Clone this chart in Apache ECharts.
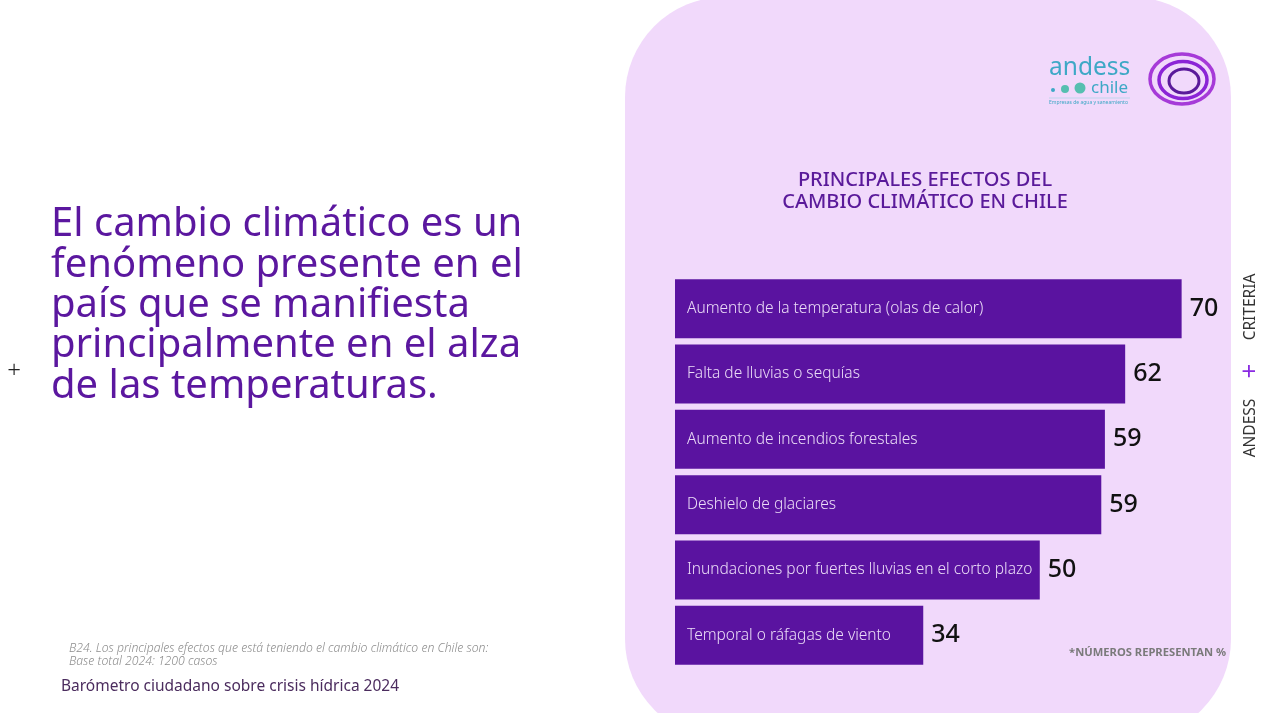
<!DOCTYPE html>
<html>
<head>
<meta charset="utf-8">
<script src="https://cdn.jsdelivr.net/npm/echarts@6/dist/echarts.min.js"></script>
<style>
html,body{margin:0;padding:0;background:#fff;}
#chart{width:1265px;height:713px;}
</style>
</head>
<body>
<div id="chart"></div>
<script>
const categories = [
  'Aumento de la temperatura (olas de calor)',
  'Falta de lluvias o sequías',
  'Aumento de incendios forestales',
  'Deshielo de glaciares',
  'Inundaciones por fuertes lluvias en el corto plazo',
  'Temporal o ráfagas de viento'
];
const values = [70, 62.2, 59.4, 58.9, 50.4, 34.3];
const headingLines = [
  'El cambio climático es un',
  'fenómeno presente en el',
  'país que se manifiesta',
  'principalmente en el alza',
  'de las temperaturas.'
];
const titleLines = ['PRINCIPALES EFECTOS DEL', 'CAMBIO CLIMÁTICO EN CHILE'];
const footnoteLines = [
  'B24. Los principales efectos que está teniendo el cambio climático en Chile son:',
  'Base total 2024: 1200 casos'
];
const sourceText = 'Barómetro ciudadano sobre crisis hídrica 2024';
const noteText = '*NÚMEROS REPRESENTAN %';

const FONT = 'Noto Sans';

const chart = echarts.init(document.getElementById('chart'));

const graphics = [];
// lavender panel
graphics.push({
  type: 'rect', z: -10, silent: true,
  shape: { x: 625, y: -3, width: 606, height: 742, r: 100 },
  style: { fill: '#f1d9fb' }
});
// heading
headingLines.forEach((t, i) => {
  graphics.push({
    type: 'text', x: 51, y: 225 + i * 40.3,
    style: { text: t, fill: '#5b179f', font: '400 40px "' + FONT + '"', textVerticalAlign: 'middle' }
  });
});
graphics.push({ type: 'text', x: 14, y: 371,
  style: { text: '+', fill: '#222', font: '300 24px "' + FONT + '"', textAlign: 'center', textVerticalAlign: 'middle' } });
// chart title
titleLines.forEach((t, i) => {
  graphics.push({
    type: 'text', x: 925, y: 180 + i * 22,
    style: { text: t, fill: '#5a1a9a', font: '500 20px "' + FONT + '"', textAlign: 'center', textVerticalAlign: 'middle' }
  });
});
// footnotes
footnoteLines.forEach((t, i) => {
  graphics.push({
    type: 'text', x: 69, y: 649 + i * 13,
    style: { text: t, fill: '#8c8c8c', font: 'italic 300 12.2px "' + FONT + '"', textVerticalAlign: 'middle' }
  });
});
graphics.push({ type: 'text', x: 61, y: 687,
  style: { text: sourceText, fill: '#4b2c5e', font: '400 15.5px "' + FONT + '"', textVerticalAlign: 'middle' } });
graphics.push({ type: 'text', x: 1226, y: 653,
  style: { text: noteText, fill: '#7a7a7a', font: 'bold 11.2px "' + FONT + '"', textAlign: 'right', textVerticalAlign: 'middle' } });
// vertical side text
graphics.push({ type: 'text', x: 1251, y: 307, rotation: Math.PI / 2,
  style: { text: 'CRITERIA', fill: '#333', font: '400 15.5px "' + FONT + '"', textAlign: 'center', textVerticalAlign: 'middle' } });
graphics.push({ type: 'text', x: 1251, y: 371, rotation: Math.PI / 2,
  style: { text: '+', fill: '#8a2be2', font: '400 26px "' + FONT + '"', textAlign: 'center', textVerticalAlign: 'middle' } });
graphics.push({ type: 'text', x: 1251, y: 428, rotation: Math.PI / 2,
  style: { text: 'ANDESS', fill: '#333', font: '400 15.5px "' + FONT + '"', textAlign: 'center', textVerticalAlign: 'middle' } });
// andess logo
graphics.push({ type: 'text', x: 1049, y: 68,
  style: { text: 'andess', fill: '#3ea8c6', font: '400 24.5px "' + FONT + '"', textVerticalAlign: 'middle' } });
graphics.push({ type: 'circle', shape: { cx: 1053, cy: 90, r: 2 }, style: { fill: '#3ea8c6' } });
graphics.push({ type: 'circle', shape: { cx: 1065, cy: 89, r: 4 }, style: { fill: '#56bfb0' } });
graphics.push({ type: 'circle', shape: { cx: 1080, cy: 88, r: 5.5 }, style: { fill: '#56bfb0' } });
graphics.push({ type: 'text', x: 1091, y: 88,
  style: { text: 'chile', fill: '#3ea8c6', font: '400 17px "' + FONT + '"', textVerticalAlign: 'middle' } });
graphics.push({ type: 'line', shape: { x1: 1049, y1: 98, x2: 1130, y2: 98 },
  style: { stroke: '#9fd3e0', lineWidth: 0.6 } });
graphics.push({ type: 'text', x: 1049, y: 103,
  style: { text: 'Empresas de agua y saneamiento', fill: '#3ea8c6', font: '400 5px "' + FONT + '"', textVerticalAlign: 'middle' } });
// spiral logo
graphics.push({ type: 'ellipse', shape: { cx: 1182, cy: 79, rx: 32, ry: 25 },
  style: { fill: 'none', stroke: '#a63ad8', lineWidth: 3.5 } });
graphics.push({ type: 'ellipse', shape: { cx: 1183, cy: 80, rx: 24, ry: 18.5 },
  style: { fill: 'none', stroke: '#8b24d6', lineWidth: 3.5 } });
graphics.push({ type: 'ellipse', shape: { cx: 1184, cy: 81, rx: 15, ry: 12 },
  style: { fill: 'none', stroke: '#5a1a9a', lineWidth: 3 } });

chart.setOption({
  animation: false,
  backgroundColor: '#ffffff',
  textStyle: { fontFamily: FONT },
  graphic: graphics,
  grid: { left: 675, top: 276, height: 392, width: 579 },
  xAxis: {
    type: 'value', min: 0, max: 80,
    show: false, splitLine: { show: false }
  },
  yAxis: {
    type: 'category', data: categories, inverse: true, z: 10,
    axisLine: { show: false }, axisTick: { show: false },
    axisLabel: { inside: true, margin: 12, color: '#ebdcf7', fontSize: 15.5, fontWeight: 300, fontFamily: FONT }
  },
  series: [{
    type: 'bar', data: values, barWidth: 59,
    itemStyle: { color: '#5a13a0' },
    label: {
      show: true, position: 'right', distance: 8,
      formatter: p => Math.round(p.value),
      color: '#111', fontSize: 25, fontWeight: 500, fontFamily: FONT
    }
  }]
});
</script>
</body>
</html>
